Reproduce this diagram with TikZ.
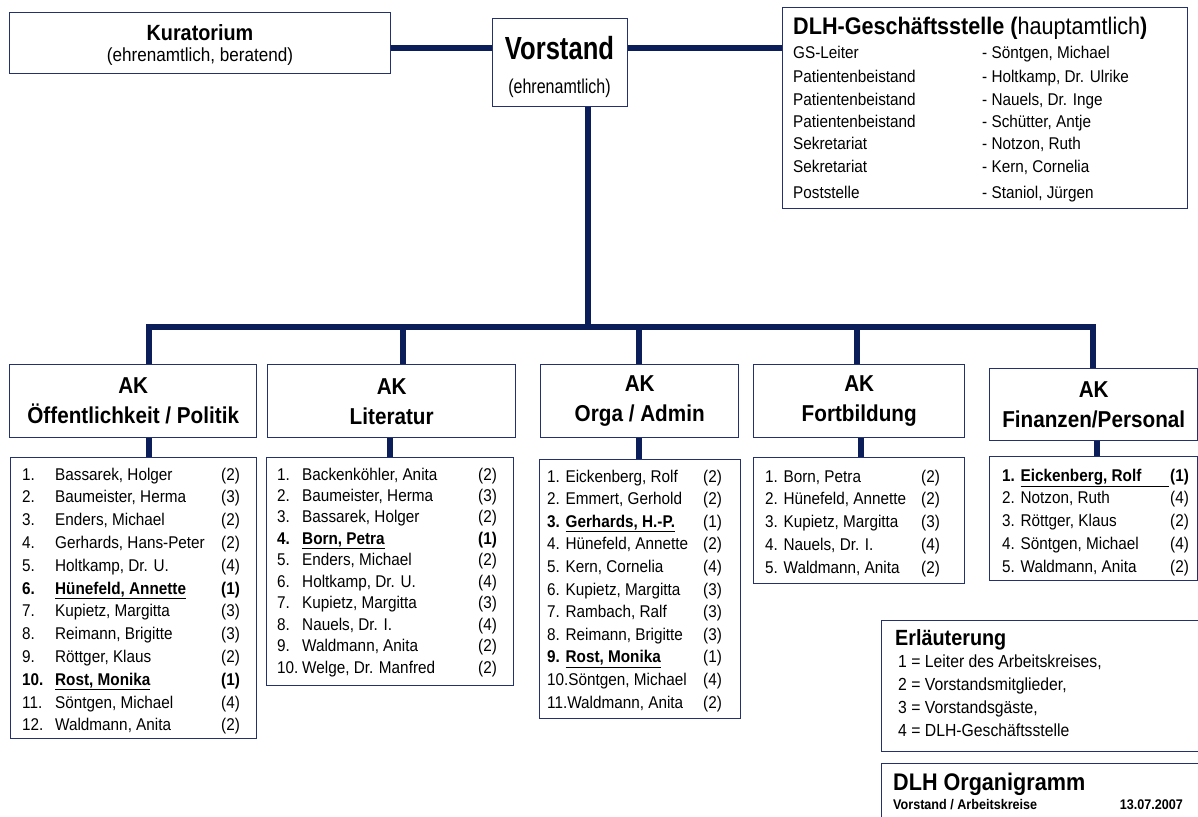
\documentclass[tikz,border=0pt]{standalone}
\usepackage{fontspec}
\setmainfont{Liberation Sans}[FakeStretch=0.9]
\newfontfamily\narrowfont{Liberation Sans}[FakeStretch=0.8]
\usetikzlibrary{calc}
\definecolor{navy}{HTML}{0C1E5A}
\definecolor{boxline}{HTML}{23326E}
\tikzset{
  conn/.style={draw=navy, line width=6.5pt},
  box/.style={draw=boxline, line width=1.4pt, fill=white, rectangle, inner sep=0pt, anchor=north west},
  hdr/.style={box, align=center, font=\bfseries\fontsize{23}{30}\selectfont},
  lbl/.style={inner sep=0pt, text=black},
  row/.style={inner sep=0pt, anchor=base west, text=black, font=\fontsize{17}{20}\selectfont},
  dlhrow/.style={inner sep=0pt, anchor=base west, text=black, font=\fontsize{17}{20}\selectfont},
}
\begin{document}
\begin{tikzpicture}[x=1pt,y=-1pt]
\useasboundingbox (0,0) rectangle (1198,816);
\clip (0,0) rectangle (1198,816);

% ---- top row
\node[box, minimum width=381pt, minimum height=61pt] (kur) at (9,12) {};
\node[lbl, font=\bfseries\fontsize{22}{26}\selectfont] (kurT) at (200,33) {Kuratorium};
\node[lbl, font=\fontsize{19}{22}\selectfont] (kurS) at (200,57) {(ehrenamtlich, beratend)};

\node[box, minimum width=135pt, minimum height=88pt] (vor) at (492,18) {};
\node[lbl, font=\narrowfont\bfseries\fontsize{32}{34}\selectfont] (vorT) at (559.5,48) {Vorstand};
\node[lbl, font=\narrowfont\fontsize{20}{22}\selectfont] (vorS) at (559.5,88) {(ehrenamtlich)};

\node[box, minimum width=405pt, minimum height=201pt] (dlh) at (782,7) {};
\node[lbl, anchor=base west, font=\fontsize{24}{28}\selectfont] (dlhT) at (793,35)
  {\textbf{DLH-Geschäftsstelle (}hauptamtlich\textbf{)}};
\foreach \ra/\rb/\ry [count=\i] in {GS-Leiter/{- Söntgen, Michael}/59,
  Patientenbeistand/{- Holtkamp, Dr. Ulrike}/82,
  Patientenbeistand/{- Nauels, Dr. Inge}/105,
  Patientenbeistand/{- Schütter, Antje}/127,
  Sekretariat/{- Notzon, Ruth}/149,
  Sekretariat/{- Kern, Cornelia}/172,
  Poststelle/{- Staniol, Jürgen}/198}{
  \node[dlhrow] (dlhA\i) at (793,\ry) {\ra};
  \node[dlhrow] (dlhB\i) at (982,\ry) {\rb};
}

% ---- headers
\node[hdr, minimum width=247pt, minimum height=73pt] (h1) at (9,364) {AK\\Öffentlichkeit / Politik};
\node[hdr, minimum width=248pt, minimum height=73pt] (h2) at (267,364) {AK\\Literatur};
\node[hdr, minimum width=198pt, minimum height=73pt] (h3) at (540,364) {AK\\Orga / Admin};
\node[hdr, minimum width=211pt, minimum height=73pt] (h4) at (753,364) {AK\\Fortbildung};
\node[hdr, minimum width=208pt, minimum height=72pt] (h5) at (989,368) {AK\\Finanzen/Personal};

% ---- list boxes
\node[box, minimum width=246pt, minimum height=281pt] (l1) at (10,457) {};
\node[box, minimum width=247pt, minimum height=228pt] (l2) at (266,457) {};
\node[box, minimum width=201pt, minimum height=259pt] (l3) at (539,459) {};
\node[box, minimum width=211pt, minimum height=126pt] (l4) at (753,457) {};
\node[box, minimum width=208pt, minimum height=124pt] (l5) at (989,456) {};

% Öffentlichkeit / Politik
\foreach \rn/\rt/\rv [count=\i] in {
  1./{Bassarek, Holger}/(2),
  2./{Baumeister, Herma}/(3),
  3./{Enders, Michael}/(2),
  4./{Gerhards, Hans-Peter}/(2),
  5./{Holtkamp, Dr. U.}/(4),
  {\textbf{6.}}/{\textbf{\underline{Hünefeld, Annette}}}/{\textbf{(1)}},
  7./{Kupietz, Margitta}/(3),
  8./{Reimann, Brigitte}/(3),
  9./{Röttger, Klaus}/(2),
  {\textbf{10.}}/{\textbf{\underline{Rost, Monika}}}/{\textbf{(1)}},
  11./{Söntgen, Michael}/(4),
  12./{Waldmann, Anita}/(2)}{
  \node[row] (oe\i) at (22,{480+(\i-1)*22.8}) {\makebox[33pt][l]{\rn}\makebox[166pt][l]{\rt}\rv};
}

% Literatur
\foreach \rn/\rt/\rv [count=\i] in {
  1./{Backenköhler, Anita}/(2),
  2./{Baumeister, Herma}/(3),
  3./{Bassarek, Holger}/(2),
  {\textbf{4.}}/{\textbf{\underline{Born, Petra}}}/{\textbf{(1)}},
  5./{Enders, Michael}/(2),
  6./{Holtkamp, Dr. U.}/(4),
  7./{Kupietz, Margitta}/(3),
  8./{Nauels, Dr. I.}/(4),
  9./{Waldmann, Anita}/(2),
  10./{Welge, Dr. Manfred}/(2)}{
  \node[row] (li\i) at (277,{480+(\i-1)*21.45}) {\makebox[25pt][l]{\rn}\makebox[176pt][l]{\rt}\rv};
}

% Orga / Admin
\foreach \rt/\rv [count=\i] in {
  {1. Eickenberg, Rolf}/(2),
  {2. Emmert, Gerhold}/(2),
  {\textbf{3. \underline{Gerhards, H.-P.}}}/(1),
  {4. Hünefeld, Annette}/(2),
  {5. Kern, Cornelia}/(4),
  {6. Kupietz, Margitta}/(3),
  {7. Rambach, Ralf}/(3),
  {8. Reimann, Brigitte}/(3),
  {\textbf{9. \underline{Rost, Monika}}}/(1),
  {10.Söntgen, Michael}/(4),
  {11.Waldmann, Anita}/(2)}{
  \node[row] (or\i) at (547,{482+(\i-1)*22.6}) {\makebox[156pt][l]{\rt}\rv};
}

% Fortbildung
\foreach \rt/\rv [count=\i] in {
  {1. Born, Petra}/(2),
  {2. Hünefeld, Annette}/(2),
  {3. Kupietz, Margitta}/(3),
  {4. Nauels, Dr. I.}/(4),
  {5. Waldmann, Anita}/(2)}{
  \node[row] (fo\i) at (765,{482+(\i-1)*22.75}) {\makebox[156pt][l]{\rt}\rv};
}

% Finanzen / Personal
\foreach \rt/\rv [count=\i] in {
  {\textbf{1. \underline{\makebox[148pt][l]{Eickenberg, Rolf}}}}/{\textbf{(1)}},
  {2. Notzon, Ruth}/(4),
  {3. Röttger, Klaus}/(2),
  {4. Söntgen, Michael}/(4),
  {5. Waldmann, Anita}/(2)}{
  \node[row] (fi\i) at (1002,{481+(\i-1)*22.75}) {\makebox[168pt][l]{\rt}\rv};
}

% ---- legend boxes
\node[box, minimum width=340pt, minimum height=131pt] (erl) at (881,620) {};
\node[lbl, anchor=base west, font=\bfseries\fontsize{22}{26}\selectfont] (erlT) at (895,645) {Erläuterung};
\node[row, font=\fontsize{17.5}{20}\selectfont] (erl1) at (898,667) {1 = Leiter des Arbeitskreises,};
\node[row, font=\fontsize{17.5}{20}\selectfont] (erl2) at (898,690) {2 = Vorstandsmitglieder,};
\node[row, font=\fontsize{17.5}{20}\selectfont] (erl3) at (898,713) {3 = Vorstandsgäste,};
\node[row, font=\fontsize{17.5}{20}\selectfont] (erl4) at (898,736) {4 = DLH-Geschäftsstelle};

\node[box, minimum width=340pt, minimum height=80pt] (org) at (881,763) {};
\node[lbl, anchor=base west, font=\bfseries\fontsize{24}{28}\selectfont] (orgT) at (893,790) {DLH Organigramm};
\node[lbl, anchor=base west, font=\bfseries\fontsize{14}{16}\selectfont] (orgS) at (893,809) {Vorstand / Arbeitskreise};
\node[lbl, anchor=base east, font=\bfseries\fontsize{14}{16}\selectfont] (orgD) at (1183,809) {13.07.2007};

% ---- connectors
\coordinate (hl) at (0,48);
\coordinate (vd) at (588,0);
\coordinate (bus) at (0,327);
\coordinate (d1) at (149,327);
\coordinate (d2) at (403,327);
\coordinate (d3) at (639,327);
\coordinate (d4) at (857,327);
\coordinate (d5) at (1093,327);
\coordinate (e2) at (390,0);
\coordinate (e4) at (861,0);
\coordinate (e5) at (1097,0);

\draw[conn] (kur.east |- hl) -- (vor.west |- hl);
\draw[conn] (vor.east |- hl) -- (dlh.west |- hl);
\draw[conn] (vd |- vor.south) -- (vd |- bus);
\draw[conn, line cap=rect] (d1) -- (d5);
\draw[conn] (d1) -- (d1 |- h1.north);
\draw[conn] (d2) -- (d2 |- h2.north);
\draw[conn] (d3) -- (d3 |- h3.north);
\draw[conn] (d4) -- (d4 |- h4.north);
\draw[conn] (d5) -- (d5 |- h5.north);
\draw[conn] (d1 |- h1.south) -- (d1 |- l1.north);
\draw[conn] (e2 |- h2.south) -- (e2 |- l2.north);
\draw[conn] (d3 |- h3.south) -- (d3 |- l3.north);
\draw[conn] (e4 |- h4.south) -- (e4 |- l4.north);
\draw[conn] (e5 |- h5.south) -- (e5 |- l5.north);
\end{tikzpicture}
\end{document}
